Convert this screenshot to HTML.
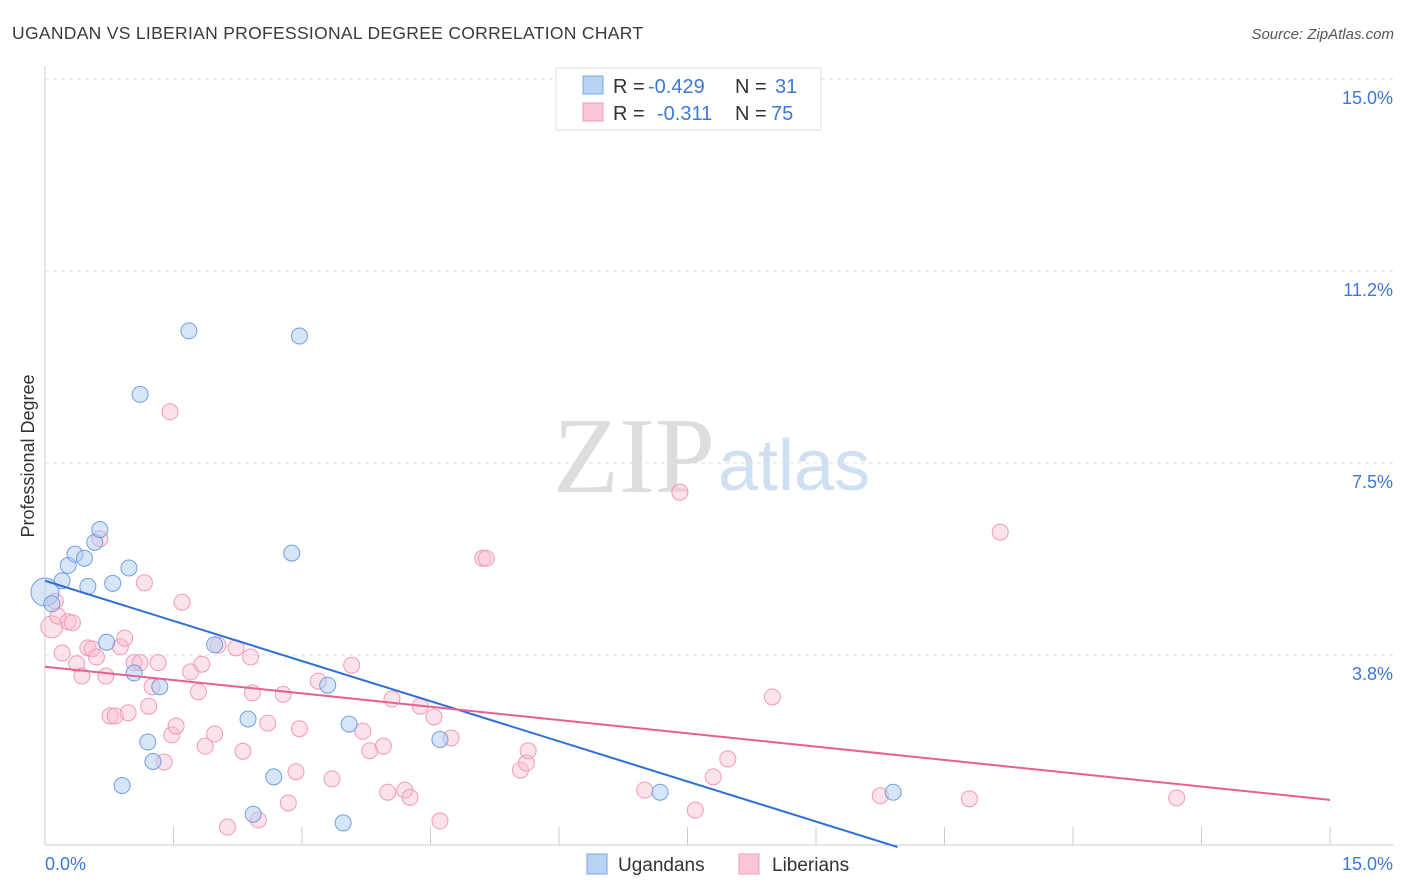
<!DOCTYPE html>
<html><head><meta charset="utf-8"><style>
body{margin:0;background:#fff;font-family:"Liberation Sans",sans-serif;}
svg{display:block}
</style></head><body>
<svg id="chart" width="1406" height="892">
<text x="12" y="39" font-size="17.5" fill="#3a3a3a" letter-spacing="0.3">UGANDAN VS LIBERIAN PROFESSIONAL DEGREE CORRELATION CHART</text>
<text x="1394" y="39" font-size="15" fill="#555" font-style="italic" text-anchor="end">Source: ZipAtlas.com</text>
<text x="715" y="492" font-size="108" fill="#ddd" text-anchor="end" font-family="Liberation Serif">ZIP</text>
<text x="718" y="490" font-size="72" fill="#cfe0f3">atlas</text>
<text x="34" y="456" font-size="18" fill="#333" transform="rotate(-90 34 456)" text-anchor="middle">Professional Degree</text>
<g id="grid"></g><g id="pts"></g><g id="lines"></g>
<g font-size="20">
<rect x="556" y="68" width="265" height="62" fill="#fff" stroke="#ddd"/>
<rect x="583" y="76" width="20" height="18" fill="#b9d3f5" stroke="#7aa6e0"/>
<rect x="583" y="103" width="20" height="18" fill="#f9c6d6" stroke="#ee9bb6"/>
<text x="613" y="93" fill="#333">R =</text><text x="648" y="93" fill="#3b78d8">-0.429</text>
<text x="735" y="93" fill="#333">N =</text><text x="775" y="93" fill="#3b78d8">31</text>
<text x="613" y="120" fill="#333">R =</text><text x="657" y="120" fill="#3b78d8">-0.311</text>
<text x="735" y="120" fill="#333">N =</text><text x="771" y="120" fill="#3b78d8">75</text>
</g>
<g>
<rect x="587" y="854" width="20" height="20" fill="#b9d3f5" stroke="#7aa6e0"/>
<text x="618" y="871" font-size="19" fill="#333">Ugandans</text>
<rect x="739" y="854" width="20" height="20" fill="#f9c6d6" stroke="#ee9bb6"/>
<text x="772" y="871" font-size="19" fill="#333">Liberians</text>
</g>
</svg>
<script>
const yTicks=[3.75,7.5,11.25,15];
const yTickLabels=["3.8%","7.5%","11.2%","15.0%"];
const xTickLabels=["0.0%","15.0%"];
const ugX=[0,0.08,0.2,0.27,0.35,0.46,0.5,0.58,0.64,0.72,0.79,0.9,0.98,1.04,1.2,1.26,1.34,1.68,1.11,1.98,2.37,2.43,2.67,2.88,2.97,3.3,3.48,3.55,4.61,7.18,9.9];
const ugY=[4.98,4.75,5.2,5.5,5.72,5.64,5.09,5.95,6.2,4.0,5.15,1.2,5.45,3.4,2.05,1.67,3.13,10.08,8.84,3.95,2.5,0.64,1.37,5.74,9.98,3.16,0.47,2.4,2.1,1.07,1.07];
const lbX=[0.08,0.15,0.2,0.27,0.32,0.37,0.43,0.5,0.55,0.6,0.64,0.71,0.76,0.82,0.88,0.93,0.97,1.04,1.11,1.16,1.21,1.25,1.32,1.39,1.46,1.48,1.53,1.6,1.7,1.79,1.83,1.87,1.98,2.02,2.13,2.23,2.31,2.4,2.42,2.49,2.6,2.78,2.84,2.93,2.97,3.19,3.35,3.58,3.71,3.79,3.95,4.0,4.05,4.2,4.26,4.38,4.54,4.61,4.74,5.11,5.15,5.55,5.62,5.64,7.0,7.41,7.59,7.8,7.97,8.49,9.75,10.79,11.15,13.21,0.12];
const lbY=[4.3,4.51,3.79,4.4,4.38,3.58,3.34,3.89,3.87,3.71,6.02,3.34,2.56,2.56,3.91,4.08,2.62,3.6,3.6,5.16,2.75,3.13,3.6,1.66,8.5,2.19,2.36,4.78,3.42,3.03,3.57,1.97,2.21,3.94,0.39,3.89,1.87,3.71,3.01,0.53,2.42,2.98,0.86,1.47,2.31,3.24,1.33,3.55,2.26,1.88,1.97,1.07,2.89,1.11,0.97,2.75,2.54,0.51,2.13,5.64,5.64,1.5,1.64,1.88,1.11,6.93,0.72,1.37,1.72,2.93,1.0,0.94,6.15,0.96,4.8];
const ugTrend=[5.2,0];const ugTrendX=[0,9.95];
const lbTrend=[3.52,0.92];const lbTrendX=[0,15];
const X=v=>45+v*85.67, Y=v=>847-v*51.2;
const NS="http://www.w3.org/2000/svg";
function mk(t,a,p){const e=document.createElementNS(NS,t);for(const k in a)e.setAttribute(k,a[k]);p.appendChild(e);return e;}
const g=document.getElementById('grid');
mk('line',{x1:45,y1:66,x2:45,y2:845,stroke:'#ccc'},g);
mk('line',{x1:45,y1:845,x2:1394,y2:845,stroke:'#ccc'},g);
yTicks.forEach((t,i)=>{
 const l=mk('line',{x1:45,y1:Y(t),x2:1394,y2:Y(t),stroke:'#ddd','stroke-dasharray':'4,4'},g);
 
 
 const tx=mk('text',{x:1393,y:Y(t)+25,'font-size':18,fill:'#3b78d8','text-anchor':'end'},g);tx.textContent=yTickLabels[i];
 
 
});
for(let i=1;i<=10;i++){const x=45+i*128.5;mk('line',{x1:x,y1:827,x2:x,y2:845,stroke:'#ccc'},g);}
const t0=mk('text',{x:45,y:870,'font-size':18,fill:'#3b78d8'},g);t0.textContent=xTickLabels[0];


const t1=mk('text',{x:1393,y:870,'font-size':18,fill:'#3b78d8','text-anchor':'end'},g);t1.textContent=xTickLabels[1];


const p=document.getElementById('pts');
lbX.forEach((v,i)=>{const c=mk('circle',{cx:X(v),cy:Y(lbY[i]),r:i==0?11:8,fill:'rgba(249,190,208,0.45)',stroke:'#f09ab6','stroke-width':1},p);
 
 });
ugX.forEach((v,i)=>{const c=mk('circle',{cx:X(v),cy:Y(ugY[i]),r:i==0?14:8,fill:'rgba(175,204,244,0.5)',stroke:'#6f9fe0','stroke-width':1},p);
 
 });
const L=document.getElementById('lines');
const a=mk('line',{x1:X(ugTrendX[0]),y1:Y(ugTrend[0]),x2:X(ugTrendX[1]),y2:Y(ugTrend[1]),stroke:'#2f6fd6','stroke-width':2},L);


const b=mk('line',{x1:X(lbTrendX[0]),y1:Y(lbTrend[0]),x2:X(lbTrendX[1]),y2:Y(lbTrend[1]),stroke:'#e8608f','stroke-width':2},L);


</script>
</body></html>
